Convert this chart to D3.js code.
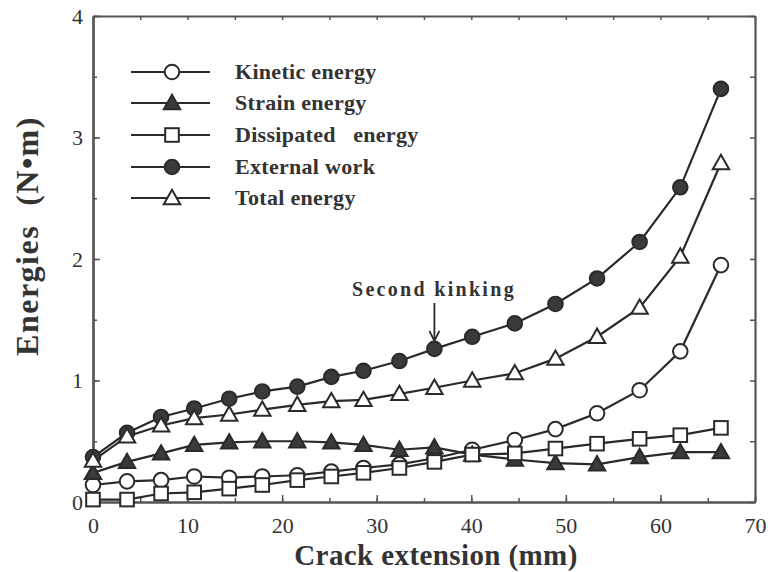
<!DOCTYPE html>
<html><head><meta charset="utf-8">
<script src="https://cdn.jsdelivr.net/npm/d3@7/dist/d3.min.js"></script>
<style>body{margin:0;background:#fff}svg{display:block}</style>
</head><body>
<svg id="c" width="768" height="572"></svg>
<script>
const crack = [0, 3.6, 7.2, 10.7, 14.4, 17.9, 21.6, 25.2, 28.6, 32.4, 36.1, 40.1, 44.6, 48.9, 53.3, 57.8, 62.1, 66.4];
const kinetic = [0.14, 0.17, 0.18, 0.21, 0.20, 0.21, 0.22, 0.25, 0.28, 0.31, 0.36, 0.43, 0.51, 0.60, 0.73, 0.92, 1.24, 1.95];
const strain = [0.24, 0.33, 0.40, 0.47, 0.49, 0.50, 0.50, 0.49, 0.47, 0.43, 0.45, 0.39, 0.35, 0.32, 0.31, 0.37, 0.41, 0.41];
const dissipated = [0.02, 0.02, 0.07, 0.08, 0.11, 0.14, 0.18, 0.21, 0.24, 0.28, 0.33, 0.39, 0.40, 0.44, 0.48, 0.52, 0.55, 0.61];
const external = [0.37, 0.57, 0.70, 0.77, 0.85, 0.91, 0.95, 1.03, 1.08, 1.16, 1.26, 1.36, 1.47, 1.63, 1.84, 2.14, 2.59, 3.40];
const total = [0.34, 0.54, 0.63, 0.69, 0.72, 0.76, 0.80, 0.83, 0.84, 0.89, 0.94, 1.00, 1.06, 1.18, 1.36, 1.60, 2.02, 2.79];
const xTicks = [0, 10, 20, 30, 40, 50, 60, 70];
const yTicks = [0, 1, 2, 3, 4];
const seriesNames = ["Kinetic energy", "Strain energy", "Dissipated\u00a0\u00a0\u00a0energy", "External work", "Total energy"];
const kinkX = 36.1, kinkY = 1.26;

const series = [
  {name: seriesNames[0], values: kinetic, shape: "circle", fill: false},
  {name: seriesNames[1], values: strain, shape: "triangle", fill: true},
  {name: seriesNames[2], values: dissipated, shape: "square", fill: false},
  {name: seriesNames[3], values: external, shape: "circle", fill: true},
  {name: seriesNames[4], values: total, shape: "triangle", fill: false}
];

const svg = d3.select("#c");
const L = 93, R = 755, T = 16, B = 502;
const x = d3.scaleLinear().domain([0, 70]).range([L, R]);
const y = d3.scaleLinear().domain([0, 4]).range([B, T]);
const serif = "'Liberation Serif', 'DejaVu Serif', serif";
const ink = "#2a2a2a";

const g = svg.append("g");
function styleAxis(sel) {
  sel.select(".domain").attr("stroke", "#555").attr("stroke-width", 2.2);
  sel.selectAll(".tick line").attr("stroke", "#555").attr("stroke-width", 1.5);
}
const xMinor = d3.range(0, 70.1, 5);
const yMinor = d3.range(0, 4.01, 0.5);
g.append("g").attr("transform", `translate(0,${B})`)
  .call(d3.axisBottom(x).tickValues(xMinor).tickSizeInner(-4).tickSizeOuter(0).tickFormat(""))
  .call(styleAxis);
g.append("g").attr("transform", `translate(0,${B})`)
  .call(d3.axisBottom(x).tickValues(xTicks).tickSizeInner(-7).tickSizeOuter(0).tickPadding(15)
    .tickFormat(d3.format("d")))
  .call(styleAxis)
  .call(s => s.selectAll(".tick text").attr("font-family", serif).attr("font-size", 22).attr("fill", "#333"));
g.append("g").attr("transform", `translate(0,${T})`)
  .call(d3.axisTop(x).tickValues(xMinor).tickSizeInner(-4).tickSizeOuter(0).tickFormat(""))
  .call(styleAxis);
g.append("g").attr("transform", `translate(${L},0)`)
  .call(d3.axisLeft(y).tickValues(yMinor).tickSizeInner(-4).tickSizeOuter(0).tickFormat(""))
  .call(styleAxis);
g.append("g").attr("transform", `translate(${L},0)`)
  .call(d3.axisLeft(y).tickValues(yTicks).tickSizeInner(-7).tickSizeOuter(0).tickPadding(10)
    .tickFormat(d3.format("d")))
  .call(styleAxis)
  .call(s => s.selectAll(".tick text").attr("font-family", serif).attr("font-size", 22).attr("fill", "#333"));
g.append("g").attr("transform", `translate(${R},0)`)
  .call(d3.axisRight(y).tickValues(yMinor).tickSizeInner(-5).tickSizeOuter(0).tickFormat(""))
  .call(styleAxis);

function marker(sel, shape, fill, cx, cy) {
  const f = fill ? "#3a3a3a" : "#fff";
  if (shape === "circle") {
    sel.append("circle").attr("cx", cx).attr("cy", cy).attr("r", 7.3)
      .attr("fill", f).attr("stroke", ink).attr("stroke-width", 2);
  } else if (shape === "square") {
    sel.append("rect").attr("x", cx - 6.8).attr("y", cy - 6.8).attr("width", 13.6).attr("height", 13.6)
      .attr("fill", f).attr("stroke", ink).attr("stroke-width", 2);
  } else {
    const s = 8.2;
    sel.append("path").attr("d", `M${cx},${cy - s}L${cx + s},${cy + s * 0.75}L${cx - s},${cy + s * 0.75}Z`)
      .attr("fill", f).attr("stroke", ink).attr("stroke-width", 2).attr("stroke-linejoin", "miter");
  }
}

const line = d3.line().x((d, i) => x(crack[i])).y(d => y(d));
const plot = svg.append("g");
series.forEach(s => {
  plot.append("path").attr("d", line(s.values)).attr("fill", "none")
    .attr("stroke", ink).attr("stroke-width", 2.2);
});
series.forEach(s => {
  const mg = plot.append("g");
  s.values.forEach((v, i) => marker(mg, s.shape, s.fill, x(crack[i]), y(v)));
});

const leg = svg.append("g");
const legY = [72, 103, 135, 167, 198];
series.forEach((s, i) => {
  leg.append("line").attr("x1", 131).attr("x2", 210).attr("y1", legY[i]).attr("y2", legY[i])
    .attr("stroke", ink).attr("stroke-width", 2);
  marker(leg, s.shape, s.fill, 172, legY[i]);
  leg.append("text").attr("x", 235).attr("y", legY[i] + 7).text(s.name)
    .attr("font-family", serif).attr("font-weight", "bold").attr("font-size", 22)
    .attr("letter-spacing", 0.3).attr("fill", "#333");
});

svg.append("text").attr("x", 352).attr("y", 296).text("Second  kinking")
  .attr("font-family", serif).attr("font-weight", "bold").attr("font-size", 20)
  .attr("letter-spacing", 2.3).attr("fill", "#333");
const ax = x(kinkX), ay = y(kinkY) - 8;
svg.append("line").attr("x1", ax).attr("x2", ax).attr("y1", 303).attr("y2", ay)
  .attr("stroke", ink).attr("stroke-width", 1.8);
svg.append("path").attr("d", `M${ax - 5},${ay - 10}L${ax},${ay}L${ax + 5},${ay - 10}`)
  .attr("fill", "none").attr("stroke", ink).attr("stroke-width", 1.8);

svg.append("text").attr("x", 436).attr("y", 565).attr("text-anchor", "middle")
  .text("Crack extension (mm)")
  .attr("font-family", serif).attr("font-weight", "bold").attr("font-size", 29)
  .attr("letter-spacing", 0.4).attr("fill", "#333");
svg.append("text").attr("transform", "translate(38,236) rotate(-90)").attr("text-anchor", "middle")
  .text("Energies\u00a0\u00a0(N\u2022m)")
  .attr("font-family", serif).attr("font-weight", "bold").attr("font-size", 32)
  .attr("letter-spacing", 1.5).attr("fill", "#333");
</script>
</body></html>
